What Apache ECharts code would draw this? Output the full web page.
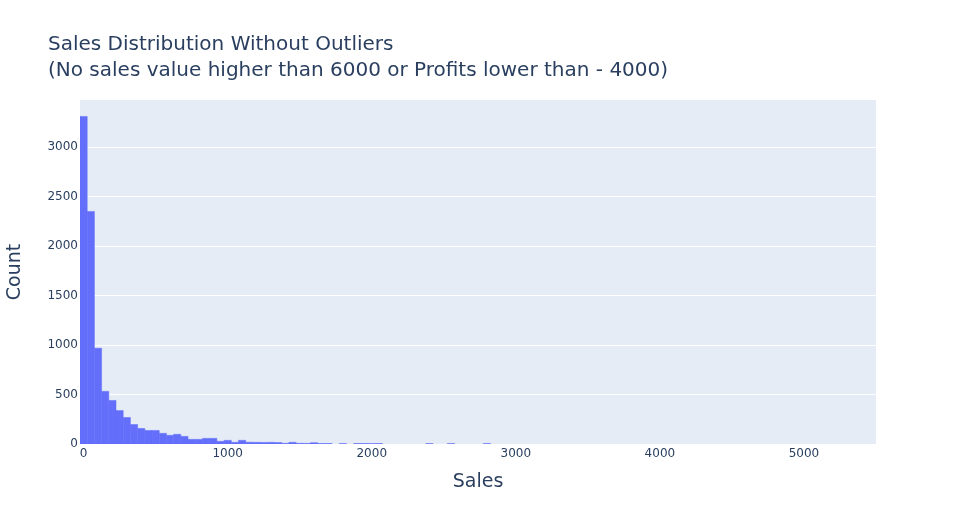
<!DOCTYPE html>
<html>
<head>
<meta charset="utf-8">
<script src="https://cdn.jsdelivr.net/npm/echarts@6/dist/echarts.min.js"></script>
<style>
html,body{margin:0;padding:0;background:#fff;}
#chart{width:955px;height:525px;}
</style>
</head>
<body>
<div id="chart"></div>
<script>
// Histogram of Sales: bin size 50, bins centred on 0, 50, 100, ...
const binSize = 50;
const binCounts = [
  3310, 2350, 968, 532, 440, 338, 268, 197, 157, 137,
  137, 108, 88, 98, 77, 47, 47, 57, 57, 27,
  37, 17, 37, 18, 17, 16, 17, 15, 7, 17,
  7, 6, 13, 5, 5, 0, 4, 0, 5, 5,
  4, 5, 0, 0, 0, 0, 0, 0, 4, 0,
  0, 4, 0, 0, 0, 0, 4, 0
];
const xTicks = [0, 1000, 2000, 3000, 4000, 5000];
const yTicks = [0, 500, 1000, 1500, 2000, 2500, 3000];
const titleLines = [
  'Sales Distribution Without Outliers',
  '(No sales value higher than 6000 or Profits lower than - 4000)'
];
const xTitle = 'Sales';
const yTitle = 'Count';

const data = binCounts.map((c, i) => [i * binSize, c]);

const chart = echarts.init(document.getElementById('chart'), null, {renderer: 'canvas'});
const font = '"DejaVu Sans", Verdana, sans-serif';
const txt = '#2a3f5f';
const barColor = '#636efa';

chart.setOption({
  animation: false,
  backgroundColor: '#ffffff',
  textStyle: {fontFamily: font},
  title: {
    text: titleLines.join('\n'),
    left: 48,
    top: 32,
    padding: 0,
    textStyle: {fontFamily: font, fontSize: 20, fontWeight: 'normal', color: txt, lineHeight: 26}
  },
  grid: {
    left: 80, right: 79, top: 100, bottom: 81,
    outerBoundsMode: 'none',
    containLabel: false,
    show: true, backgroundColor: '#E5ECF6', borderWidth: 0
  },
  xAxis: {
    type: 'value',
    min: -binSize / 2,
    max: 5500,
    name: xTitle,
    nameLocation: 'middle',
    nameGap: 29,
    nameTextStyle: {fontFamily: font, fontSize: 19, color: txt},
    axisLine: {show: false},
    axisTick: {show: false, customValues: xTicks},
    splitLine: {show: false},
    axisLabel: {customValues: xTicks, formatter: v => String(v), fontFamily: font, fontSize: 12, color: txt, margin: 4}
  },
  yAxis: {
    type: 'value',
    min: 0,
    max: 3476,
    name: yTitle,
    nameLocation: 'middle',
    nameGap: 55,
    nameTextStyle: {fontFamily: font, fontSize: 19, color: txt},
    axisLine: {show: false},
    axisTick: {show: false, customValues: yTicks},
    splitLine: {show: true, lineStyle: {color: '#ffffff', width: 1}},
    axisLabel: {customValues: yTicks, formatter: v => String(v), fontFamily: font, fontSize: 12, color: txt, margin: 2}
  },
  series: [{
    type: 'custom',
    data: data,
    clip: true,
    renderItem: function (params, api) {
      const c = api.value(0), v = api.value(1);
      if (!v) return null;
      const p0 = api.coord([c - binSize / 2, v]);
      const p1 = api.coord([c + binSize / 2, 0]);
      return {
        type: 'rect',
        shape: {x: p0[0], y: p0[1], width: p1[0] - p0[0], height: p1[1] - p0[1]},
        style: {fill: barColor, stroke: barColor, lineWidth: 0.5}
      };
    },
    encode: {x: 0, y: 1}
  }]
});
</script>
</body>
</html>
